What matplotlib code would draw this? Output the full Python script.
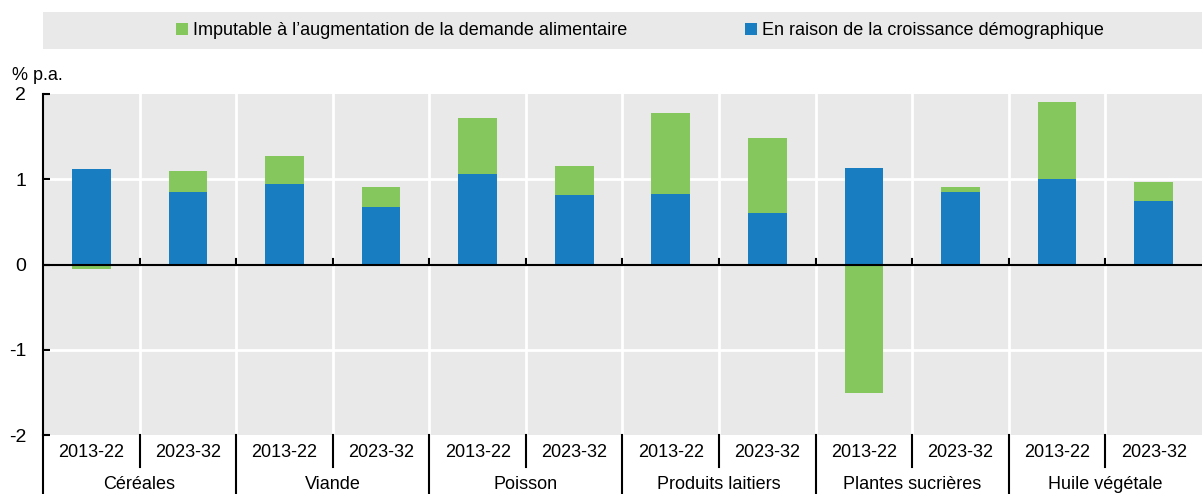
import numpy as np
import matplotlib
matplotlib.use("Agg")
import matplotlib.pyplot as plt
from matplotlib.lines import Line2D
from matplotlib.patches import Rectangle, Patch

# data (% p.a.)
categories = ["Céréales", "Viande", "Poisson", "Produits laitiers",
              "Plantes sucrières", "Huile végétale"]
periods = ["2013-22", "2023-32"]
population = [1.12, 0.85, 0.94, 0.67, 1.06, 0.82, 0.83, 0.60, 1.13, 0.85, 1.00, 0.745]
food_demand = [-0.05, 0.25, 0.33, 0.24, 0.66, 0.34, 0.95, 0.88, -1.51, 0.06, 0.91, 0.22]

BLUE = "#187dc1"
GREEN = "#85c65d"
BG = "#e9e9e9"

plt.rcParams['font.family'] = ['Liberation Sans', 'DejaVu Sans']
FS = 13

pop = np.array(population)
food = np.array(food_demand)
x = np.arange(len(pop))

fig = plt.figure(figsize=(12.02, 4.94), dpi=100)
ax = fig.add_axes([43 / 1202, 59 / 494, 1 - 43 / 1202, 341 / 494])
ax.set_facecolor(BG)

ax.bar(x, pop, width=0.4, color=BLUE, zorder=3)
ax.bar(x, food, width=0.4, bottom=np.where(food > 0, pop, 0), color=GREEN, zorder=3)

ax.set_xlim(-0.5, len(x) - 0.5)
ax.set_ylim(-2, 2)
ax.set_yticks([-2, -1, 0, 1, 2])
ax.set_yticklabels(["-2", "-1", "0", "1", "2"])
ax.tick_params(axis="y", direction="in", length=5, width=1.5, pad=12, labelsize=FS + 1)
ax.set_xticks([])

# white grid
for b in np.arange(0.5, len(x) - 0.5, 1):
    ax.axvline(b, color="white", lw=2, zorder=1)
for v in [-1, 1]:
    ax.axhline(v, color="white", lw=2, zorder=1)

# zero line with small ticks
ax.axhline(0, color="black", lw=1.5, zorder=4)
for b in np.arange(0.5, len(x) - 0.5, 1):
    ax.plot([b, b], [0, 0.07], color="black", lw=1.5, zorder=4)

for s in ["top", "right", "bottom"]:
    ax.spines[s].set_visible(False)
ax.spines["left"].set_linewidth(1.5)

# two-level category labels
trans = ax.get_xaxis_transform()
for i in range(len(x)):
    ax.text(x[i], -0.05, periods[i % 2], transform=trans, ha="center", va="center",
            fontsize=FS, clip_on=False)
for g, name in enumerate(categories):
    ax.text(2 * g + 0.5, -0.145, name, transform=trans, ha="center", va="center",
            fontsize=FS, clip_on=False)
    ax.add_line(Line2D([2 * g - 0.5] * 2, [0, -0.175], transform=trans,
                       color="black", lw=1.5, clip_on=False))
    ax.add_line(Line2D([2 * g + 0.5] * 2, [0, -0.093], transform=trans,
                       color="black", lw=1.5, clip_on=False))

fig.text(12 / 1202, 1 - 76 / 494, "% p.a.", fontsize=FS, va="center", ha="left")

# legend band
fig.patches.append(Rectangle((43 / 1202, 1 - 49 / 494), 1 - 43 / 1202, 37 / 494,
                             transform=fig.transFigure, facecolor=BG, edgecolor="none"))
handles = [Patch(facecolor=GREEN, label="Imputable à l’augmentation de la demande alimentaire"),
           Patch(facecolor=BLUE, label="En raison de la croissance démographique")]
fig.legend(handles=handles, loc="center", bbox_to_anchor=(640 / 1202, 1 - 30.5 / 494),
           ncol=2, frameon=False, fontsize=FS, handlelength=0.65, handleheight=0.65,
           handletextpad=0.3, columnspacing=6.5)

fig.savefig("out.png", dpi=100)
